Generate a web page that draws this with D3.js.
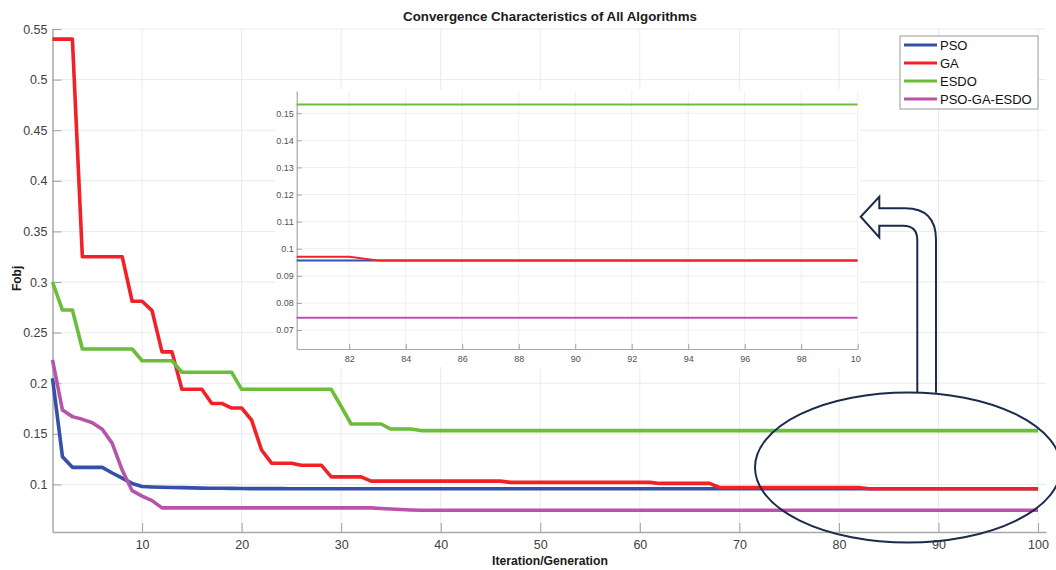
<!DOCTYPE html>
<html>
<head>
<meta charset="utf-8">
<script src="https://cdn.jsdelivr.net/npm/d3@7"></script>
<style>
  html, body { margin: 0; padding: 0; background: #fff; }
  svg { display: block; font-family: "Liberation Sans", Arial, Helvetica, sans-serif; }
</style>
</head>
<body>
<svg id="chart" width="1056" height="570"></svg>
<script>
// ---------------- DATA ----------------
const seriesNames = ["PSO", "GA", "ESDO", "PSO-GA-ESDO"];
const seriesColors = ["#3550a8", "#f02228", "#6bbd3a", "#b754aa"];

const psoValues = [
  0.205,0.1274,0.1169,0.1169,0.1169,0.1169,0.1113,0.1063,0.101,0.098,
  0.0975,0.0972,0.097,0.0968,0.0966,0.0964,0.0963,0.0962,0.0961,0.096,
  0.0959,0.0959,0.0959,0.0959,0.0958,0.0958,0.0958,0.0958,0.0958,0.0958,
  0.0957,0.0957,0.0957,0.0957,0.0957,0.0957,0.0957,0.0957,0.0957,0.0957,
  0.0957,0.0957,0.0957,0.0957,0.0957,0.0957,0.0957,0.0957,0.0957,0.0957,
  0.0957,0.0957,0.0957,0.0957,0.0957,0.0957,0.0957,0.0957,0.0957,0.0957,
  0.0957,0.0957,0.0957,0.0957,0.0957,0.0957,0.0957,0.0957,0.0957,0.0957,
  0.0957,0.0957,0.0957,0.0957,0.0957,0.0957,0.0957,0.0957,0.0957,0.0957,
  0.0957,0.0957,0.0957,0.0957,0.0957,0.0957,0.0957,0.0957,0.0957,0.0957,
  0.0957,0.0957,0.0957,0.0957,0.0957,0.0957,0.0957,0.0957,0.0957,0.0957
];

const gaValues = [
  0.54,0.54,0.54,0.325,0.325,0.325,0.325,0.325,0.281,0.281,
  0.2717,0.231,0.231,0.194,0.194,0.194,0.180,0.180,0.1755,0.1755,
  0.1636,0.134,0.121,0.121,0.121,0.119,0.119,0.119,0.1075,0.1075,
  0.1075,0.1075,0.1033,0.1033,0.1033,0.1033,0.1033,0.1033,0.1033,0.1033,
  0.1033,0.1033,0.1033,0.1033,0.1033,0.1033,0.102,0.102,0.102,0.102,
  0.102,0.102,0.102,0.102,0.102,0.102,0.102,0.102,0.102,0.102,
  0.102,0.101,0.101,0.101,0.101,0.101,0.101,0.097,0.097,0.097,
  0.097,0.097,0.097,0.097,0.097,0.097,0.097,0.097,0.097,0.097,
  0.097,0.097,0.0957,0.0957,0.0957,0.0957,0.0957,0.0957,0.0957,0.0957,
  0.0957,0.0957,0.0957,0.0957,0.0957,0.0957,0.0957,0.0957,0.0957,0.0957
];

const esdoValues = [
  0.300,0.2723,0.2723,0.2338,0.2338,0.2338,0.2338,0.2338,0.2338,0.2222,
  0.2222,0.2222,0.2222,0.2108,0.2108,0.2108,0.2108,0.2108,0.2108,0.194,
  0.194,0.194,0.194,0.194,0.194,0.194,0.194,0.194,0.194,0.177,
  0.1597,0.1597,0.1597,0.1597,0.1547,0.1547,0.1547,0.1532,0.1532,0.1532,
  0.1532,0.1532,0.1532,0.1532,0.1532,0.1532,0.1532,0.1532,0.1532,0.1532,
  0.1532,0.1532,0.1532,0.1532,0.1532,0.1532,0.1532,0.1532,0.1532,0.1532,
  0.1532,0.1532,0.1532,0.1532,0.1532,0.1532,0.1532,0.1532,0.1532,0.1532,
  0.1532,0.1532,0.1532,0.1532,0.1532,0.1532,0.1532,0.1532,0.1532,0.1532,
  0.1532,0.1532,0.1532,0.1532,0.1532,0.1532,0.1532,0.1532,0.1532,0.1532,
  0.1532,0.1532,0.1532,0.1532,0.1532,0.1532,0.1532,0.1532,0.1532,0.1532
];

const hybridValues = [
  0.223,0.1735,0.167,0.1643,0.161,0.1545,0.1406,0.1142,0.0938,0.0885,
  0.084,0.0768,0.0768,0.0768,0.0768,0.0768,0.0768,0.0768,0.0768,0.0768,
  0.0768,0.0768,0.0768,0.0768,0.0768,0.0768,0.0768,0.0768,0.0768,0.0768,
  0.0768,0.0768,0.0768,0.0762,0.0758,0.0752,0.0748,0.0745,0.0745,0.0745,
  0.0745,0.0745,0.0745,0.0745,0.0745,0.0745,0.0745,0.0745,0.0745,0.0745,
  0.0745,0.0745,0.0745,0.0745,0.0745,0.0745,0.0745,0.0745,0.0745,0.0745,
  0.0745,0.0745,0.0745,0.0745,0.0745,0.0745,0.0745,0.0745,0.0745,0.0745,
  0.0745,0.0745,0.0745,0.0745,0.0745,0.0745,0.0745,0.0745,0.0745,0.0745,
  0.0745,0.0745,0.0745,0.0745,0.0745,0.0745,0.0745,0.0745,0.0745,0.0745,
  0.0745,0.0745,0.0745,0.0745,0.0745,0.0745,0.0745,0.0745,0.0745,0.0745
];

const xTickValues = [10,20,30,40,50,60,70,80,90,100];
const yTickValues = [0.1,0.15,0.2,0.25,0.3,0.35,0.4,0.45,0.5,0.55];
const insetXTickValues = [82,84,86,88,90,92,94,96,98,100];
const insetYTickValues = [0.07,0.08,0.09,0.1,0.11,0.12,0.13,0.14,0.15];

const titleText = "Convergence Characteristics of All Algorithms";
const xLabelText = "Iteration/Generation";
const yLabelText = "Fobj";

// ---------------- BUILD ----------------
const allSeries = [psoValues, gaValues, esdoValues, hybridValues].map((vals, i) => ({
  name: seriesNames[i],
  color: seriesColors[i],
  points: vals.map((v, j) => ({ it: j + 1, v }))
}));

const svg = d3.select("#chart");
const fmt = d => String(+d.toFixed(2));

// main scales
const x = d3.scaleLinear().domain([1, 100.8]).range([52.5, 1046]);
const y = d3.scaleLinear().domain([0.053, 0.55]).range([532, 29]);

// grid
const grid = svg.append("g").attr("stroke", "#ebebeb").attr("stroke-width", 1);
grid.selectAll(".gx").data(xTickValues).join("line")
  .attr("x1", d => x(d)).attr("x2", d => x(d)).attr("y1", y.range()[1]).attr("y2", y.range()[0]);
grid.selectAll(".gy").data(yTickValues).join("line")
  .attr("x1", x.range()[0]).attr("x2", x.range()[1]).attr("y1", d => y(d)).attr("y2", d => y(d));

function styleAxis(g, fontSize, color) {
  g.select(".domain").attr("stroke", "#a8a8a8").attr("stroke-width", 1.5);
  g.selectAll(".tick line").attr("stroke", "#a0a0a0").attr("stroke-width", 1);
  g.selectAll(".tick text").attr("fill", color).style("font-size", fontSize + "px")
    .style("font-family", '"Liberation Sans", Arial, sans-serif');
}

const xAxisG = svg.append("g").attr("transform", `translate(0,${y.range()[0]})`)
  .call(d3.axisBottom(x).tickValues(xTickValues).tickSizeInner(-9).tickSizeOuter(0).tickPadding(8).tickFormat(d3.format("d")));
styleAxis(xAxisG, 12.5, "#404040");

const yAxisG = svg.append("g").attr("transform", `translate(${x.range()[0]},0)`)
  .call(d3.axisLeft(y).tickValues(yTickValues).tickSizeInner(-9).tickSizeOuter(0).tickPadding(5).tickFormat(fmt));
styleAxis(yAxisG, 12.5, "#404040");

// main lines
const line = d3.line().x(d => x(d.it)).y(d => y(d.v));
svg.append("g").selectAll("path").data(allSeries).join("path")
  .attr("d", d => line(d.points))
  .attr("fill", "none")
  .attr("stroke", d => d.color)
  .attr("stroke-width", 3.6)
  .attr("stroke-linejoin", "round");

// titles
svg.append("text").attr("x", 550).attr("y", 21).attr("text-anchor", "middle")
  .style("font-weight", "bold").style("font-size", "13.3px").attr("fill", "#1a1a1a").text(titleText);
svg.append("text").attr("x", 550).attr("y", 565).attr("text-anchor", "middle")
  .style("font-weight", "bold").style("font-size", "12.2px").attr("fill", "#1a1a1a").text(xLabelText);
svg.append("text").attr("transform", "translate(20.5,278.4) rotate(-90)").attr("text-anchor", "middle")
  .style("font-weight", "bold").style("font-size", "12px").attr("fill", "#1a1a1a").text(yLabelText);

// ellipse highlight
svg.append("ellipse").attr("cx", 908).attr("cy", 467.5).attr("rx", 153).attr("ry", 75)
  .attr("fill", "none").attr("stroke", "#1c2b4a").attr("stroke-width", 2);

// ---------------- INSET ----------------
const inset = svg.append("g");
inset.append("rect").attr("x", 275).attr("y", 90).attr("width", 585).attr("height", 277).attr("fill", "#fff");

svg.append("defs").append("clipPath").attr("id", "insetClip")
  .append("rect").attr("x", 275).attr("y", 80).attr("width", 586).attr("height", 300);
svg.select("defs").append("clipPath").attr("id", "insetPlotClip")
  .append("rect").attr("x", 296.7).attr("y", 91).attr("width", 561).attr("height", 258);

const ig = inset.append("g").attr("clip-path", "url(#insetClip)");
const xi = d3.scaleLinear().domain([80.14, 100]).range([296.7, 857.7]);
const yi = d3.scaleLinear().domain([0.063, 0.1582]).range([349, 91]);

const igrid = ig.append("g").attr("stroke", "#efefef").attr("stroke-width", 1);
igrid.selectAll(".gx").data(insetXTickValues).join("line")
  .attr("x1", d => xi(d)).attr("x2", d => xi(d)).attr("y1", yi.range()[1]).attr("y2", yi.range()[0]);
igrid.selectAll(".gy").data(insetYTickValues).join("line")
  .attr("x1", xi.range()[0]).attr("x2", xi.range()[1]).attr("y1", d => yi(d)).attr("y2", d => yi(d));

const ixAxis = ig.append("g").attr("transform", `translate(0,${yi.range()[0]})`)
  .call(d3.axisBottom(xi).tickValues(insetXTickValues).tickSizeInner(-5).tickSizeOuter(0).tickPadding(6.5).tickFormat(d3.format("d")));
styleAxis(ixAxis, 9, "#505050");
ixAxis.select(".domain").attr("stroke-width", 1.2);

const iyAxis = ig.append("g").attr("transform", `translate(${xi.range()[0]},0)`)
  .call(d3.axisLeft(yi).tickValues(insetYTickValues).tickSizeInner(-5).tickSizeOuter(0).tickPadding(3).tickFormat(fmt));
styleAxis(iyAxis, 9, "#505050");
iyAxis.select(".domain").attr("stroke-width", 1.2);

const iline = d3.line().x(d => xi(d.it)).y(d => yi(d.v));
ig.append("g").attr("clip-path", "url(#insetPlotClip)")
  .selectAll("path").data(allSeries).join("path")
  .attr("d", d => iline(d.points.filter(p => p.it >= 79)))
  .attr("fill", "none")
  .attr("stroke", d => d.color)
  .attr("stroke-width", 2)
  .attr("stroke-linejoin", "round");

// ---------------- ARROW ----------------
const arrowPath = [
  "M917.3,392.7", "L917.3,240", "Q917.3,225.7 903,225.7", "L879.3,225.7", "L879.3,237.3",
  "L860.7,216.7", "L879.3,196.7", "L879.3,208.3", "L905,208.3",
  "Q936,208.3 936,240", "L936,392.7"
].join(" ");
svg.append("path").attr("d", arrowPath).attr("fill", "#fff").attr("fill-opacity", 0)
  .attr("stroke", "#1c2b4a").attr("stroke-width", 2).attr("stroke-linejoin", "miter");

// ---------------- LEGEND ----------------
const legend = svg.append("g");
legend.append("rect").attr("x", 900).attr("y", 36).attr("width", 138).attr("height", 73)
  .attr("fill", "#fff").attr("stroke", "#9a9a9a").attr("stroke-width", 1);
const items = legend.selectAll(".item").data(allSeries).join("g")
  .attr("transform", (d, i) => `translate(0,${45 + i * 18})`);
items.append("line").attr("x1", 904).attr("x2", 937).attr("y1", 0).attr("y2", 0)
  .attr("stroke", d => d.color).attr("stroke-width", 3.2);
items.append("text").attr("x", 940).attr("y", 5).style("font-size", "13px").attr("fill", "#111")
  .text(d => d.name);
</script>
</body>
</html>
